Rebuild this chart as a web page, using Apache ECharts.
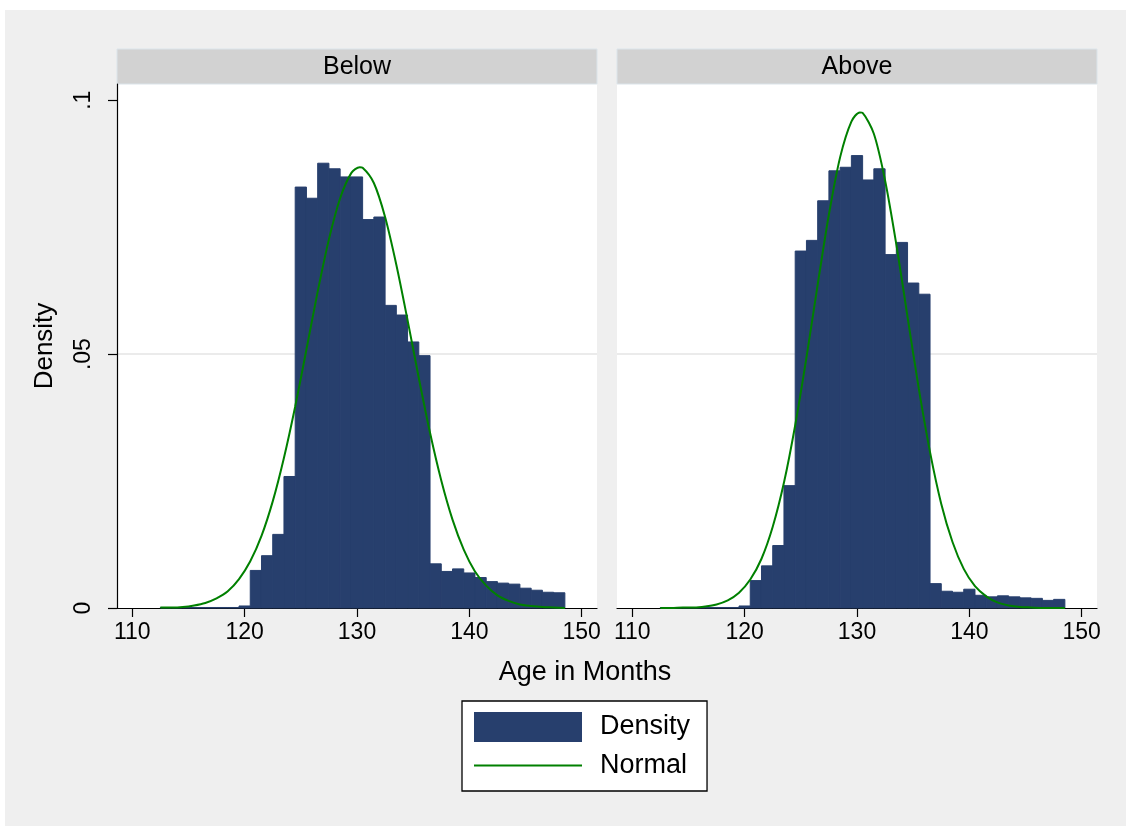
<!DOCTYPE html>
<html>
<head>
<meta charset="utf-8">
<script src="https://cdn.jsdelivr.net/npm/echarts@6/dist/echarts.min.js"></script>
<style>
html,body{margin:0;padding:0;background:#fff;}
#chart{width:1126px;height:826px;}
</style>
</head>
<body>
<div id="chart"></div>
<script>
// ---- data ----
const panels = ['Below', 'Above'];
const ageBins = [113,114,115,116,117,118,119,120,121,122,123,124,125,126,127,128,129,130,131,132,133,134,135,136,137,138,139,140,141,142,143,144,145,146,147,148];
const densityBelow = [0.0001,0.0001,0.0001,0.0001,0.0001,0.0001,0.0001,0.0004,0.0074,0.0103,0.0145,0.0259,0.0829,0.0807,0.0876,0.0865,0.0849,0.0849,0.0765,0.0770,0.0596,0.0577,0.0524,0.0497,0.0087,0.0072,0.0077,0.0069,0.0060,0.0052,0.0049,0.0047,0.0039,0.0035,0.0031,0.0030];
const densityAbove = [0.0001,0.0001,0.0001,0.0001,0.0001,0.0001,0.0001,0.0004,0.0054,0.0083,0.0123,0.0241,0.0703,0.0724,0.0802,0.0861,0.0868,0.0891,0.0843,0.0865,0.0696,0.0720,0.0640,0.0618,0.0048,0.0033,0.0031,0.0037,0.0025,0.0022,0.0024,0.0022,0.0020,0.0019,0.0015,0.0017];
const curveAges = [112.5,113.5,114.5,115.5,116.5,117.5,118.5,119.5,120.5,121.5,122.5,123.5,124.5,125.5,126.5,127.5,128.5,129.5,130.25,130.5,131.5,132.5,133.5,134.5,135.5,136.5,137.5,138.5,139.5,140.5,141.5,142.5,143.5,144.5,145.5,146.5,147.5,148.5];
const normalBelow = [0.0001,0.0001,0.0002,0.0005,0.0010,0.0019,0.0033,0.0057,0.0092,0.0142,0.0210,0.0296,0.0397,0.0509,0.0623,0.0726,0.0807,0.0857,0.0868,0.0867,0.0837,0.0770,0.0676,0.0567,0.0453,0.0345,0.0251,0.0174,0.0115,0.0072,0.0044,0.0025,0.0014,0.0007,0.0004,0.0002,0.0001,0.0000];
const normalAbove = [0.0000,0.0000,0.0001,0.0001,0.0003,0.0007,0.0015,0.0030,0.0056,0.0097,0.0160,0.0247,0.0360,0.0493,0.0637,0.0775,0.0888,0.0958,0.0976,0.0975,0.0934,0.0842,0.0716,0.0573,0.0432,0.0307,0.0205,0.0130,0.0077,0.0043,0.0023,0.0011,0.0005,0.0002,0.0001,0.0000,0.0000,0.0000];
const xTicks = [110,120,130,140,150];
const yTicks = [0,0.05,0.1];
const yTickLabels = ['0','.05','.1'];
const binWidth = 1;

// ---- layout / style ----
const NAVY = '#273f6d';
const GREEN = '#008000';
const FONT = 'Liberation Sans, Arial, Helvetica, sans-serif';
const PANEL_LEFT = [117, 617];
const PANEL_W = 480;
const PLOT_TOP = 84;
const PLOT_H = 524;
const HEADER_TOP = 49;
const X_MIN = 108.64, X_MAX = 151.36;
const Y_MAX = 0.1032;

const binsBelow = ageBins.map((a, i) => [a, densityBelow[i]]);
const binsAbove = ageBins.map((a, i) => [a, densityAbove[i]]);
const curveBelow = curveAges.map((a, i) => [a, normalBelow[i]]);
const curveAbove = curveAges.map((a, i) => [a, normalAbove[i]]);

function renderBin(params, api) {
  const c = api.value(0), v = api.value(1);
  const p0 = api.coord([c - binWidth / 2, v]);
  const p1 = api.coord([c + binWidth / 2, 0]);
  return {
    type: 'rect',
    shape: { x: p0[0], y: p0[1], width: p1[0] - p0[0], height: p1[1] - p0[1] },
    style: { fill: NAVY, stroke: NAVY, lineWidth: 1 }
  };
}

const grids = PANEL_LEFT.map(l => ({
  left: l, top: PLOT_TOP, width: PANEL_W, height: PLOT_H,
  show: true, backgroundColor: '#ffffff', borderWidth: 0
}));

const xAxes = [0, 1].map(i => ({
  type: 'value', gridIndex: i, min: X_MIN, max: X_MAX,
  axisLine: { show: true, onZero: false, lineStyle: { color: '#000', width: 1.2 } },
  axisTick: { show: true, length: 9, lineStyle: { color: '#000', width: 1.2 }, customValues: xTicks },
  axisLabel: { show: true, customValues: xTicks, fontSize: 23, color: '#000', fontFamily: FONT, margin: 13,
    formatter: v => String(Math.round(v)) },
  splitLine: { show: false }
}));

const yAxes = [0, 1].map(i => ({
  type: 'value', gridIndex: i, min: 0, max: Y_MAX, interval: 0.05,
  name: i === 0 ? 'Density' : '',
  nameLocation: 'middle', nameGap: 59, nameRotate: 90,
  nameTextStyle: { fontSize: 26, color: '#000', fontFamily: FONT },
  axisLine: { show: i === 0, lineStyle: { color: '#000', width: 1.2 } },
  axisTick: { show: i === 0, length: 9, lineStyle: { color: '#000', width: 1.2 }, customValues: yTicks },
  axisLabel: { show: i === 0, customValues: yTicks, rotate: 90, fontSize: 23, color: '#000', fontFamily: FONT, margin: 22,
    formatter: v => { const k = yTicks.findIndex(t => Math.abs(t - v) < 1e-9); return k >= 0 ? yTickLabels[k] : ''; } },
  splitLine: { show: true, showMinLine: false, showMaxLine: false, lineStyle: { color: '#e4e4e4', width: 1.5 } }
}));

const graphics = [
  { type: 'rect', z: -100, silent: true, shape: { x: 5, y: 10, width: 1121, height: 816 }, style: { fill: '#efefef' } }
];
panels.forEach((p, i) => {
  graphics.push({ type: 'rect', silent: true, shape: { x: PANEL_LEFT[i], y: HEADER_TOP, width: PANEL_W, height: PLOT_TOP - HEADER_TOP },
    style: { fill: '#d2d2d2', stroke: '#dbe4ea', lineWidth: 1 } });
  graphics.push({ type: 'text', silent: true, x: PANEL_LEFT[i] + PANEL_W / 2, y: (HEADER_TOP + PLOT_TOP) / 2 + 1,
    style: { text: p, fill: '#000', font: '25px ' + FONT, align: 'center', verticalAlign: 'middle' } });
});
graphics.push({ type: 'text', silent: true, x: 585, y: 673,
  style: { text: 'Age in Months', fill: '#000', font: '27px ' + FONT, align: 'center', verticalAlign: 'middle' } });

const option = {
  animation: false,
  backgroundColor: '#ffffff',
  grid: grids,
  xAxis: xAxes,
  yAxis: yAxes,
  graphic: graphics,
  legend: {
    left: 462, top: 701, orient: 'vertical',
    itemWidth: 108, itemHeight: 30, itemGap: 10,
    padding: [11, 17, 12, 12],
    backgroundColor: '#ffffff', borderColor: '#000', borderWidth: 1.3,
    textStyle: { fontSize: 27, color: '#000', fontFamily: FONT, padding: [0, 0, 0, 13] },
    data: [
      { name: 'Density', icon: 'rect' },
      { name: 'Normal', icon: 'path://M0,0L108,0L108,2.2L0,2.2Z', itemStyle: { color: GREEN } }
    ]
  },
  series: [
    { name: 'Density', type: 'custom', xAxisIndex: 0, yAxisIndex: 0, renderItem: renderBin, encode: { x: 0, y: 1 },
      itemStyle: { color: NAVY }, data: binsBelow, z: 2 },
    { name: 'Density', type: 'custom', xAxisIndex: 1, yAxisIndex: 1, renderItem: renderBin, encode: { x: 0, y: 1 },
      itemStyle: { color: NAVY }, data: binsAbove, z: 2 },
    { name: 'Normal', type: 'line', xAxisIndex: 0, yAxisIndex: 0, data: curveBelow, smooth: 0.3, showSymbol: false,
      symbol: 'none', lineStyle: { color: GREEN, width: 2 }, itemStyle: { color: GREEN }, z: 3 },
    { name: 'Normal', type: 'line', xAxisIndex: 1, yAxisIndex: 1, data: curveAbove, smooth: 0.3, showSymbol: false,
      symbol: 'none', lineStyle: { color: GREEN, width: 2 }, itemStyle: { color: GREEN }, z: 3 }
  ]
};

const chart = echarts.init(document.getElementById('chart'), null, { renderer: 'canvas' });
chart.setOption(option);
</script>
</body>
</html>
